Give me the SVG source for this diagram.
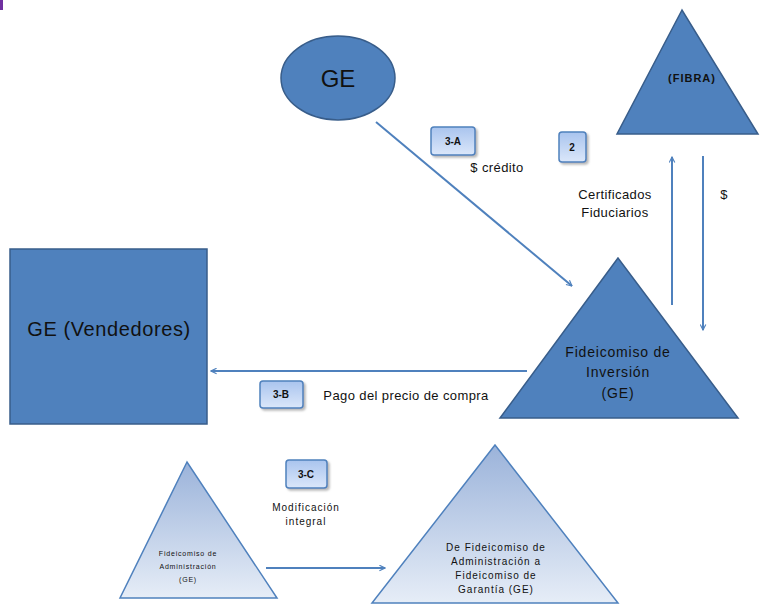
<svg xmlns="http://www.w3.org/2000/svg" width="760" height="605" viewBox="0 0 760 605">
<defs>
<linearGradient id="boxg" x1="0" y1="0" x2="0" y2="1"><stop offset="0" stop-color="#a9c4ee"/><stop offset="1" stop-color="#dbe7fa"/></linearGradient>
<linearGradient id="trig" x1="0" y1="0" x2="0" y2="1"><stop offset="0" stop-color="#9bb3da"/><stop offset="1" stop-color="#e6edf7"/></linearGradient>
<marker id="arr" viewBox="0 0 10 10" refX="9" refY="5" markerWidth="7" markerHeight="7" orient="auto" markerUnits="userSpaceOnUse"><path d="M1,1 L9,5 L1,9" fill="none" stroke="#4f81bd" stroke-width="1.6"/></marker>
<filter id="sh" x="-20%" y="-20%" width="150%" height="150%"><feDropShadow dx="2" dy="2" stdDeviation="1" flood-color="#888" flood-opacity="0.6"/></filter>
</defs>
<style>
.dark{fill:#4f81bd;stroke:#385d8a;stroke-width:1.5}
.light{fill:url(#trig);stroke:#4f81bd;stroke-width:1.5}
.box{fill:url(#boxg);stroke:#4f81bd;stroke-width:1.5;filter:url(#sh)}
.con{stroke:#4f81bd;stroke-width:2;fill:none;marker-end:url(#arr)}
text{font-family:"Liberation Sans","DejaVu Sans",sans-serif;fill:#111;text-anchor:middle}
.lbl{font-size:13px;letter-spacing:0.4px}
.bl{font-size:10px;font-weight:bold}
.tiny{font-size:7px;letter-spacing:0.8px}
.sm{font-size:10px;letter-spacing:1px}
</style>
<rect x="0" y="0" width="3" height="10" fill="#7030a0"/>
<g id="ge">
<ellipse class="dark" cx="338" cy="78" rx="57" ry="42"/>
<text x="338" y="87" font-size="24">GE</text>
</g>
<g id="fibra">
<polygon class="dark" points="682,10 617,134 758,134"/>
<text x="692" y="82" font-size="11" font-weight="bold" letter-spacing="1">(FIBRA)</text>
</g>
<g id="fideicomiso-inversion">
<polygon class="dark" points="618,258 500,418 738,418"/>
<text x="618" y="357" font-size="14" letter-spacing="0.8">Fideicomiso de</text>
<text x="618" y="377" font-size="14" letter-spacing="0.8">Inversión</text>
<text x="618" y="398" font-size="14" letter-spacing="0.8">(GE)</text>
</g>
<g id="ge-vendedores">
<rect class="dark" x="10" y="249" width="197" height="175"/>
<text x="109" y="336" font-size="20" letter-spacing="0.6">GE (Vendedores)</text>
</g>
<g id="fideicomiso-administracion">
<polygon class="light" points="187,462 120,598 277,598"/>
<text class="tiny" x="188" y="556">Fideicomiso de</text>
<text class="tiny" x="188" y="569">Administración</text>
<text class="tiny" x="188" y="582">(GE)</text>
</g>
<g id="fideicomiso-garantia">
<polygon class="light" points="495,445 372,603 618,603"/>
<text class="sm" x="496" y="551">De Fideicomiso de</text>
<text class="sm" x="496" y="565">Administración a</text>
<text class="sm" x="496" y="579">Fideicomiso de</text>
<text class="sm" x="496" y="593">Garantía (GE)</text>
</g>
<g id="box-3a">
<rect class="box" x="431" y="127" width="44" height="28" rx="3"/>
<text class="bl" x="453" y="145">3-A</text>
</g>
<g id="box-2">
<rect class="box" x="559" y="132" width="27" height="30" rx="3"/>
<text class="bl" x="572" y="151">2</text>
</g>
<g id="box-3b">
<rect class="box" x="260" y="381" width="43" height="27" rx="3"/>
<text class="bl" x="281" y="398">3-B</text>
</g>
<g id="box-3c">
<rect class="box" x="286" y="460" width="41" height="28" rx="3"/>
<text class="bl" x="306" y="478">3-C</text>
</g>
<g id="connectors">
<line class="con" x1="376" y1="122" x2="572" y2="286"/>
<line class="con" x1="672" y1="305" x2="672" y2="157"/>
<line class="con" x1="703" y1="156" x2="703" y2="330"/>
<line class="con" x1="527" y1="371" x2="211" y2="371"/>
<line class="con" x1="266" y1="568" x2="385" y2="568"/>
</g>
<g id="labels">
<text class="lbl" x="497" y="172">$ crédito</text>
<text class="lbl" x="615" y="199">Certificados</text>
<text class="lbl" x="615" y="217">Fiduciarios</text>
<text class="lbl" x="724" y="199">$</text>
<text class="lbl" x="406" y="400">Pago del precio de compra</text>
<text class="sm" x="306" y="511">Modificación</text>
<text class="sm" x="306" y="525">integral</text>
</g>
</svg>
